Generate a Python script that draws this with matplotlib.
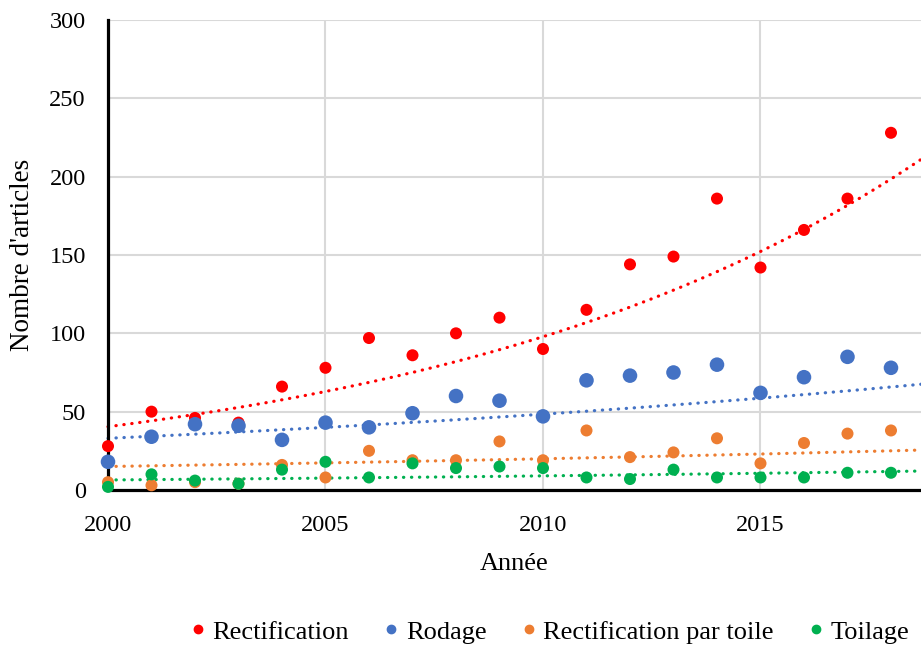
import numpy as np
import matplotlib.pyplot as plt
from matplotlib.lines import Line2D

years = list(range(2000, 2019))
rectification = [28, 50, 46, 43, 66, 78, 97, 86, 100, 110, 90, 115, 144, 149, 186, 142, 166, 186, 228]
rodage = [18, 34, 42, 41, 32, 43, 40, 49, 60, 57, 47, 70, 73, 75, 80, 62, 72, 85, 78]
rect_toile = [5, 3, 5, 4, 16, 8, 25, 19, 19, 31, 19, 38, 21, 24, 33, 17, 30, 36, 38]
toilage = [2, 10, 6, 4, 13, 18, 8, 17, 14, 15, 14, 8, 7, 13, 8, 8, 8, 11, 11]

# exponential trendlines as shown: value at 2000 and at the right edge
trend_start = [40.4, 33, 15, 6.4]
trend_end = [211, 67.5, 25.5, 12.1]

names = ["Rectification", "Rodage", "Rectification par toile", "Toilage"]
colors = ["#ff0000", "#4472c4", "#ed7d31", "#00b050"]
sizes = [75, 110, 75, 75]
values = [rectification, rodage, rect_toile, toilage]

plt.rcParams["font.family"] = ["Liberation Serif", "DejaVu Serif"]

fig = plt.figure(figsize=(9.21, 6.5), dpi=100)
ax = fig.add_axes([108 / 921, 160 / 650, 1 - 108 / 921, 470 / 650])

xmax = 2018.69
xt = np.linspace(2000, xmax, 200)
handles = []
for name, vals, color, size, y0, y1 in zip(names, values, colors, sizes, trend_start, trend_end):
    rate = np.log(y1 / y0) / (xmax - 2000)
    ax.plot(xt, y0 * np.exp(rate * (xt - 2000)), linestyle=(0, (0.1, 2.4)),
            dash_capstyle="round", color=color, lw=2.3, zorder=2, clip_on=False)
    ax.scatter(years, vals, s=size, color=color, edgecolors="none", zorder=3,
               clip_on=False)
    handles.append(Line2D([], [], ls="none", marker="o", ms=6, color=color, label=name))

ax.set_xlim(2000, xmax)
ax.set_ylim(0, 300)
ax.set_xticks([2000, 2005, 2010, 2015])
ax.set_yticks(range(0, 301, 50))
ax.grid(True, color="#d9d9d9", lw=1.5, zorder=0)
ax.set_axisbelow(True)
for s in ["top", "right"]:
    ax.spines[s].set_visible(False)
for s in ["left", "bottom"]:
    ax.spines[s].set_linewidth(2.3)
    ax.spines[s].set_color("black")
ax.tick_params(axis="both", length=0, labelsize=17.5)
ax.tick_params(axis="y", pad=16)
ax.tick_params(axis="x", pad=18)
ax.set_xlabel("Année", fontsize=19, labelpad=12)
ax.set_ylabel("Nombre d'articles", fontsize=19.5, labelpad=10)

fig.legend(handles=handles, loc="center", bbox_to_anchor=(0.594, 0.028), ncol=4,
           frameon=False, fontsize=19, handletextpad=0.05,
           columnspacing=1.1, handlelength=1.0)

fig.savefig("out.png", dpi=100)
